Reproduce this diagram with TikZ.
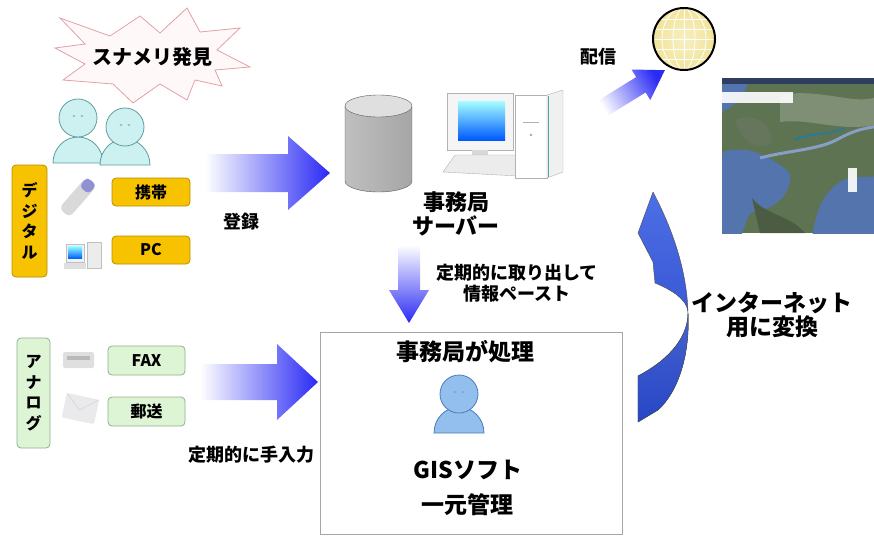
\documentclass[tikz,border=0pt]{standalone}
\usepackage{fontspec}
\setmainfont{Noto Sans CJK JP}
\definecolor{tagyellow}{HTML}{F7C300}
\definecolor{tagyellowline}{HTML}{B88F00}
\definecolor{taggreen}{HTML}{DDF5D5}
\definecolor{taggreenline}{HTML}{8FB08A}
\definecolor{arrowblue}{HTML}{2A2AF5}
\definecolor{peoplefill}{HTML}{CDF1F1}
\definecolor{peopleline}{HTML}{5E9E9E}
\definecolor{stafffill}{HTML}{92BFEE}
\definecolor{staffline}{HTML}{4B7DB3}
\definecolor{burstline}{HTML}{E2A0A8}
\definecolor{burstfill}{HTML}{FFF8F8}
\definecolor{globefill}{HTML}{F2E49A}
\definecolor{mapland}{HTML}{5E7352}
\definecolor{mapsea}{HTML}{5474AE}
\definecolor{mapedge}{HTML}{2E3E60}
\definecolor{turnlight}{HTML}{7E95EE}
\definecolor{turnmid}{HTML}{4E6EE6}
\definecolor{turndark}{HTML}{2646C6}
% head x, head y, body bottom, fill, line
\newcommand{\personicon}[5]{%
  \filldraw[fill=#4, draw=#5, line width=0.8pt] (#1-25,#3) arc[start angle=180, end angle=360, x radius=25, y radius=26] -- cycle;
  \filldraw[fill=#4, draw=#5, line width=0.8pt] (#1,#2) circle[radius=19];
  \fill[#5!70] (#1-4,#2-2) ellipse[x radius=1.6, y radius=1];
  \fill[#5!70] (#1+4,#2-2) ellipse[x radius=1.6, y radius=1];
}

\begin{document}
\begin{tikzpicture}[x=1pt,y=-1pt,
  lbl/.style={font=\bfseries\fontsize{18}{21}\selectfont, align=center, inner sep=0pt},
  biglbl/.style={font=\bfseries\fontsize{22}{24}\selectfont, align=center, inner sep=0pt},
  ytag/.style={draw=tagyellowline, fill=tagyellow, rounded corners=4pt, line width=0.8pt,
    font=\bfseries\fontsize{16}{20.5}\selectfont, align=center, inner sep=0pt},
  gtag/.style={ytag, draw=taggreenline, fill=taggreen},
  arrowshade/.style={left color=white, right color=arrowblue}]
\useasboundingbox (0,0) rectangle (874,535);

% sighting
\filldraw[draw=burstline, fill=burstfill, line width=0.8pt]
  (55,48) -- (85,44) -- (60,18) -- (110,36) -- (140,16) -- (160,33) -- (187,8) -- (200,32)
  -- (240,28) -- (217,50) -- (250,67) -- (215,70) -- (222,86) -- (195,80) -- (187,100)
  -- (160,84) -- (133,103) -- (113,84) -- (63,80) -- (85,64) -- cycle;
\node[font=\bfseries\fontsize{20}{24}\selectfont, inner sep=0pt] (burst) at (152,57) {スナメリ発見};
\personicon{78}{118}{163}{peoplefill}{peopleline}
\personicon{125}{127}{165}{peoplefill}{peopleline}

% digital side
\node[ytag, minimum width=35pt, minimum height=112pt] (digital) at (29.5,221) {デ\\ジ\\タ\\ル};
\node[ytag, minimum width=78pt, minimum height=28pt] (mobile) at (151,192) {携帯};
\node[ytag, minimum width=78pt, minimum height=28pt] (pc) at (151,250) {PC};
\begin{scope}[rotate around={49:(78,197)}]
  \fill[gray!30, rounded corners=5pt] (57,190) rectangle (99,204);
  \fill[gray!55!blue!60, rounded corners=4pt] (87,191) rectangle (99,203);
\end{scope}
\fill[gray!25] (64,263) rectangle (86,269);
\filldraw[draw=gray!50, fill=gray!10] (66,244) rectangle (84,262);
\shade[top color=cyan!40, bottom color=blue!60!cyan] (68,246) rectangle (82,258);
\filldraw[draw=gray!50, fill=gray!15] (87,242) rectangle (101,268);

% analog side
\node[gtag, minimum width=33pt, minimum height=110pt] (analog) at (33.5,393) {ア\\ナ\\ロ\\グ};
\node[gtag, minimum width=77pt, minimum height=29pt] (fax) at (146.5,360.5) {FAX};
\node[gtag, minimum width=77pt, minimum height=29pt] (post) at (146.5,411.5) {郵送};
\fill[gray!25, rounded corners=2pt] (63,352) rectangle (94,368);
\fill[gray!55] (67,356) rectangle (90,360);
\begin{scope}[rotate around={-12:(80,408)}]
  \fill[blue!8!gray!15, rounded corners=2pt] (64,396) rectangle (97,421);
  \draw[blue!15!gray!35] (64,396) -- (80,410) -- (97,396);
\end{scope}

% block arrows
\shade[arrowshade] (205,154) -- (288,154) -- (288,136) -- (330,173) -- (288,210) -- (288,192) -- (205,192) -- cycle;
\node[lbl] (reglbl) at (241,222) {登録};
\shade[arrowshade] (200,364) -- (277,364) -- (277,344) -- (318,382) -- (277,420) -- (277,400) -- (200,400) -- cycle;
\node[lbl] (inputlbl) at (251,455) {定期的に手入力};
\shade[top color=white, bottom color=arrowblue] (398,245) -- (420,245) -- (420,290) -- (429,290) -- (409,323) -- (389,290) -- (398,290) -- cycle;
\node[lbl] (pastelbl) at (517,283) {定期的に取り出して\\情報ペースト};
\shade[left color=white, right color=arrowblue, shading angle=121] (595.3,102.3) -- (636.2,77.1) -- (631.5,69.5) -- (664.8,70.2) -- (650.3,100.1) -- (645.6,92.5) -- (604.7,117.7) -- cycle;
\node[lbl] (sendlbl) at (598,57) {配信};

% server
\shade[left color=gray!50, middle color=gray!15, right color=gray!70]
  (345,106) -- (345,181) arc[start angle=180, end angle=0, x radius=33.5, y radius=11] -- (412,106) -- cycle;
\draw[gray!70!black] (345,106) -- (345,181) arc[start angle=180, end angle=0, x radius=33.5, y radius=11] -- (412,106);
\filldraw[fill=gray!25, draw=gray!70!black] (378.5,106) ellipse[x radius=33.5, y radius=11];
\filldraw[draw=gray!60, fill=gray!8] (447,93) rectangle (513,150);
\shade[top color=cyan!35, bottom color=blue!65!cyan] (458,101) rectangle (505,140);
\fill[gray!30] (472,150) rectangle (488,155);
\filldraw[draw=gray!60, fill=gray!15] (455,155) -- (522,155) -- (518,176) -- (443,172) -- cycle;
\filldraw[draw=gray!60, fill=white] (515,95) rectangle (547,178);
\filldraw[draw=gray!60, fill=gray!12] (547,95) -- (563,90) -- (563,172) -- (547,178) -- cycle;
\draw[teal!70, line width=1.5pt] (548.5,96) -- (548.5,177);
\draw[gray!60] (523,122) -- (539,122);
\fill[gray!70] (531,135) circle[radius=1.3];
\node[biglbl] (server) at (456,214) {事務局\\サーバー};

% office
\node[draw=gray!70, line width=0.8pt, minimum width=302pt, minimum height=202pt, inner sep=0pt] (office) at (471,433) {};
\node[biglbl, font=\bfseries\fontsize{23}{24}\selectfont] (officelbl) at (465,352) {事務局が処理};
\personicon{459}{394}{433}{stafffill}{staffline}
\node[biglbl, font=\bfseries\fontsize{23}{24}\selectfont] (gis) at (468,470) {GISソフト};
\node[biglbl, font=\bfseries\fontsize{23}{24}\selectfont] (manage) at (467,505) {一元管理};

% turn arrow
\shade[top color=turnmid, middle color=turnlight, bottom color=turndark, draw=gray!60!black, line width=0.4pt]
  (653,192) -- (638,233) -- (653,262) -- (655,283)
  .. controls (672,290) and (688,300) .. (688,313)
  .. controls (688,340) and (665,362) .. (638,376)
  -- (638,422) -- (658,410)
  .. controls (678,392) and (690,355) .. (688,313)
  .. controls (687,270) and (672,228) .. (653,192) -- cycle;
\shade[top color=turndark!85!white, bottom color=turndark, draw=gray!60!black, line width=0.4pt]
  (688,313) .. controls (688,340) and (665,362) .. (638,376)
  -- (638,422) -- (658,410)
  .. controls (678,392) and (690,355) .. (688,313) -- cycle;
\node[biglbl, font=\bfseries\fontsize{23}{24}\selectfont] (weblbl) at (772,315) {インターネット\\用に変換};

% globe
\node[circle, minimum size=62pt, inner sep=0pt, inner color=globefill!60!white, outer color=globefill] (globe) at (684,39) {};
\begin{scope}
  \clip (684,39) circle[radius=31];
  \draw[white, line width=0.8pt] (684,8) -- (684,70);
  \draw[white, line width=0.8pt] (684,39) ellipse[x radius=11, y radius=31];
  \draw[white, line width=0.8pt] (684,39) ellipse[x radius=22, y radius=31];
  \foreach \yy in {19,29,39,49,59} \draw[white, line width=0.8pt] (650,\yy) -- (718,\yy);
\end{scope}
\draw[black, line width=2pt] (globe.center) circle[radius=31];

% map
\begin{scope}
  \clip (722,78) rectangle (874,233);
  \fill[mapland] (722,78) rectangle (874,233);
  \fill[mapland!80!white] (780,95) .. controls (820,88) and (850,104) .. (874,98) -- (874,125) .. controls (840,132) and (810,118) .. (780,122) -- cycle;
  \fill[mapland!75!gray] (735,120) .. controls (760,110) and (775,130) .. (770,145) .. controls (755,150) and (740,140) .. (735,120) -- cycle;
  \fill[mapsea] (722,82) -- (748,82) .. controls (744,98) and (735,105) .. (722,112) -- cycle;
  \fill[mapsea] plot[smooth cycle] coordinates {(716,160) (745,150) (772,160) (790,175) (784,196) (768,208) (750,214) (738,240) (716,240)};
  \fill[mapsea] (812,240) .. controls (815,205) and (830,183) .. (850,178) -- (880,176) -- (880,240) -- cycle;
  \draw[mapsea!70!white, line width=3pt] (760,158) .. controls (790,150) and (820,150) .. (840,138) .. controls (855,130) and (865,128) .. (880,126);
  \draw[mapsea!50!teal, line width=2pt] (795,140) .. controls (810,132) and (825,136) .. (845,128);
  \fill[mapedge] (722,78) rectangle (874,84);
  \fill[mapland!80!black] (752,198) .. controls (765,215) and (790,215) .. (805,233) -- (760,233) -- cycle;
  \fill[white, opacity=0.9] (722,92) rectangle (793,103);
  \fill[white, opacity=0.9] (848,168) rectangle (857,192);
\end{scope}
\end{tikzpicture}
\end{document}
